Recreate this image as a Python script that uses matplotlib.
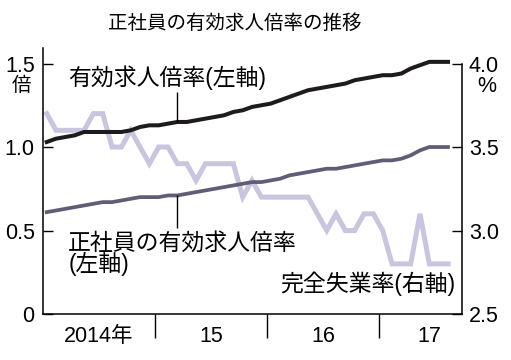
import numpy as np
import matplotlib
matplotlib.use('Agg')
import matplotlib.pyplot as plt

plt.rcParams['font.family'] = ['Liberation Sans', 'Noto Sans CJK JP', 'DejaVu Sans']

# 2014年1月～2017年8月（月次）
jobs_ratio = [1.03, 1.05, 1.06, 1.07, 1.09, 1.09, 1.09, 1.09, 1.09, 1.10, 1.12, 1.13,
              1.13, 1.14, 1.15, 1.15, 1.16, 1.17, 1.18, 1.19, 1.21, 1.22, 1.24, 1.25,
              1.26, 1.28, 1.30, 1.32, 1.34, 1.35, 1.36, 1.37, 1.38, 1.40, 1.41, 1.42,
              1.43, 1.43, 1.44, 1.47, 1.49, 1.51, 1.51, 1.51]
regular_ratio = [0.61, 0.62, 0.63, 0.64, 0.65, 0.66, 0.67, 0.67, 0.68, 0.69, 0.70, 0.70,
                 0.70, 0.71, 0.71, 0.72, 0.73, 0.74, 0.75, 0.76, 0.77, 0.78, 0.79, 0.79,
                 0.80, 0.81, 0.83, 0.84, 0.85, 0.86, 0.87, 0.87, 0.88, 0.89, 0.90, 0.91,
                 0.92, 0.92, 0.93, 0.95, 0.98, 1.00, 1.00, 1.00]
unemployment = [3.7, 3.6, 3.6, 3.6, 3.6, 3.7, 3.7, 3.5, 3.5, 3.6, 3.5, 3.4,
                3.5, 3.5, 3.4, 3.4, 3.3, 3.4, 3.4, 3.4, 3.4, 3.2, 3.3, 3.2,
                3.2, 3.2, 3.2, 3.2, 3.2, 3.1, 3.0, 3.1, 3.0, 3.0, 3.1, 3.1,
                3.0, 2.8, 2.8, 2.8, 3.1, 2.8, 2.8, 2.8]
year_labels = ['2014年', '15', '16', '17']
left_ticks = [0, 0.5, 1.0, 1.5]
left_labels = ['0', '0.5', '1.0', '1.5']
right_ticks = [2.5, 3.0, 3.5, 4.0]
right_labels = ['2.5', '3.0', '3.5', '4.0']

months = np.arange(len(jobs_ratio))

fig = plt.figure(figsize=(5.11, 3.6), dpi=100)
ax = fig.add_axes([43 / 511, 46 / 360, 419 / 511, 266 / 360])
ax2 = ax.twinx()

ax2.plot(months, unemployment, color='#c9c5de', lw=3.6, solid_joinstyle='miter')
ax.plot(months, regular_ratio, color='#625c76', lw=2.7)
ax.plot(months, jobs_ratio, color='#1e1a1e', lw=2.9)
ax.set_zorder(ax2.get_zorder() + 1)
ax.patch.set_visible(False)

ax.set_xlim(-0.4, 44.5)
ax.set_ylim(0, 1.593)
ax2.set_ylim(2.5, 4.093)

for s in ['top', 'right']:
    ax.spines[s].set_visible(False)
for s in ['top', 'left', 'bottom']:
    ax2.spines[s].set_visible(False)
ax2.spines['right'].set_bounds(2.5, 4.0)
for a in [ax, ax2]:
    for s in a.spines.values():
        s.set_linewidth(1.1)

ax.set_yticks(left_ticks)
ax.set_yticklabels(left_labels)
ax.tick_params(axis='y', direction='in', length=7, width=1.0, labelsize=15.5, pad=6)
ax2.set_yticks(right_ticks)
ax2.set_yticklabels(right_labels)
ax2.tick_params(axis='y', direction='in', length=7, width=1.0, labelsize=15.5, pad=5)

# 年の区切り
ax.set_xticks([11.6, 23.6, 35.6])
ax.set_xticklabels([])
ax.set_xticks([5.6, 17.6, 29.6, 41.0], minor=True)
ax.set_xticklabels(year_labels, minor=True)
ax.tick_params(axis='x', which='major', direction='out', length=17, width=1.0)
ax.tick_params(axis='x', which='minor', length=0, pad=9, labelsize=15.5)

# 注記
ax.text(2.3, 1.413, '有効求人倍率(左軸)', fontsize=16.5, ha='left', va='center')
ax.vlines(14, jobs_ratio[14], 1.33, color='black', lw=1.0)
ax.text(2.3, 0.36, '正社員の有効求人倍率\n(左軸)', fontsize=16.5, ha='left',
        va='center', linespacing=0.88)
ax.vlines(14, 0.515, regular_ratio[14], color='black', lw=1.0)
ax.text(43.8, 0.18, '完全失業率(右軸)', fontsize=16.5, ha='right', va='center')

fig.text(235 / 511, 1 - 23.5 / 360, '正社員の有効求人倍率の推移', fontsize=14,
         ha='center', va='center')
fig.text(21 / 511, 1 - 86 / 360, '倍', fontsize=14, ha='center', va='center')
fig.text(487 / 511, 1 - 86 / 360, '%', fontsize=15.5, ha='center', va='center')

fig.savefig('out.png', dpi=100)
